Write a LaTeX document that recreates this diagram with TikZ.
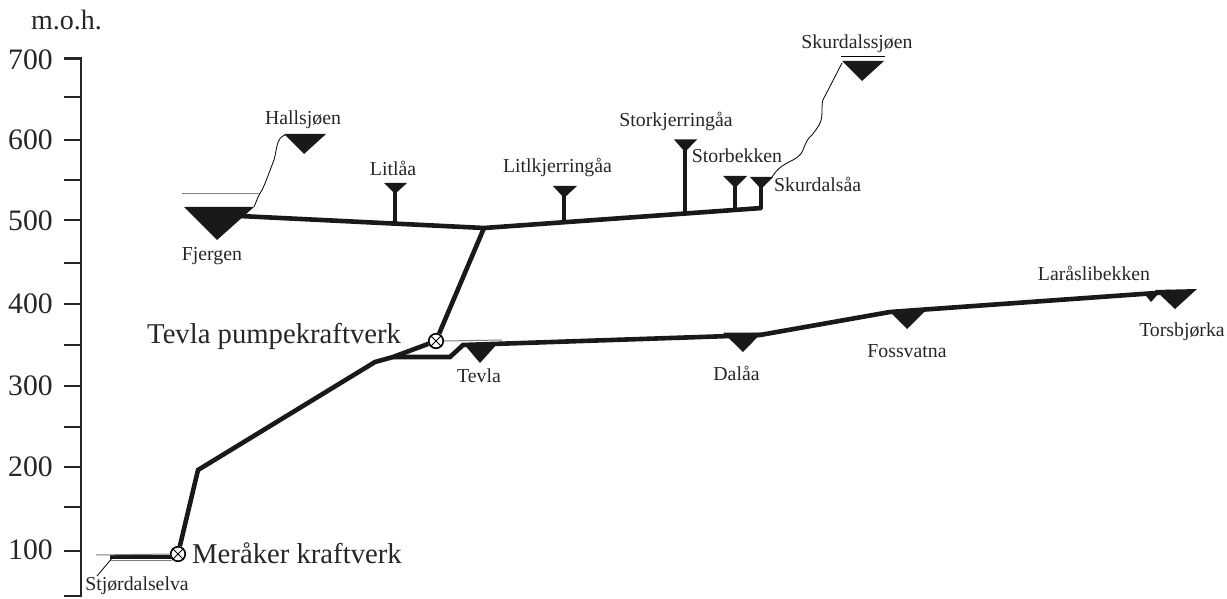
\documentclass[tikz,border=0pt]{standalone}
\usepackage{fontspec}
\setmainfont{Liberation Serif}
\tikzset{
 pipe/.style={line width=4.6pt,line join=miter,color=black!90},
 branch/.style={line width=4pt,color=black!90},
 axisline/.style={line width=2.4pt,color=black!85},
 waterline/.style={line width=1pt,color=black!50},
 thinline/.style={line width=0.8pt,color=black},
 res/.style={fill=black!90,draw=none},
 plant/.style={circle,draw=black,line width=1.6pt,fill=white,minimum size=14.5pt,inner sep=0pt},
 big/.style={font=\fontsize{29.7}{30}\selectfont,text=black!85,inner sep=0pt},
 med/.style={font=\fontsize{28.7}{29}\selectfont,text=black!85,inner sep=0pt},
 small/.style={font=\fontsize{19.8}{20}\selectfont,text=black!85,inner sep=0pt},
 unit/.style={font=\fontsize{28}{28}\selectfont,text=black!85,inner sep=0pt},
}
\begin{document}
\begin{tikzpicture}[x=1pt,y=-1pt]
\useasboundingbox (0,0) rectangle (1227,599);
% axis
\coordinate (axt) at (81,58.5); \coordinate (axb) at (81,596);
\draw[axisline] (64,58.5) -- (axt) -- (axb) -- (64,596);
\foreach \y in {97,140,180,220,263,304,345,386,427,467,507,551}
  \draw[axisline] (64,\y) -- (81,\y);
\foreach \y/\t in {60/700,140/600,221/500,304/400,386/300,467/200,550/100}
  \node[big,anchor=east] at (53,\y) {\t};
\node[unit,anchor=west] (moh) at (31,20) {m.o.h.};

% junctions
\coordinate (jF) at (240,216); \coordinate (jU) at (484,228); \coordinate (jS) at (762,208);
\coordinate (jL) at (393,357); \coordinate (jK) at (375,362); \coordinate (j200) at (198,470);
\coordinate (jT) at (450,357); \coordinate (jT2) at (463,345);
\coordinate (jD) at (760,335); \coordinate (jO) at (890,312); \coordinate (jE) at (1170,292);
\coordinate (jSt) at (110,557); \coordinate (jM) at (172,557);
\node[plant] (meraker) at (178,554) {};
\node[plant] (tevlaP) at (436,341) {};

% pipes
\draw[pipe] (jSt) -- (jM);
\draw[pipe] (meraker) -- (j200) -- (jK) -- (jL) -- (tevlaP);
\draw[pipe] (tevlaP) -- (jU);
\draw[pipe] (jF) -- (jU) -- (jS);
\draw[pipe] (jL) -- (jT) -- (jT2) -- (jD) -- (jO) -- (jE);

% branches
\coordinate (bL) at (395,224); \coordinate (tL) at (395,190);
\coordinate (bK) at (564,222); \coordinate (tK) at (564,195);
\coordinate (bS) at (685,213); \coordinate (tS) at (685,148);
\coordinate (bB) at (735,210); \coordinate (tB) at (735,184);
\coordinate (bA) at (761,209); \coordinate (tA) at (761,185);
\draw[branch] (tL) -- (bL);
\draw[branch] (tK) -- (bK);
\draw[branch] (tS) -- (bS);
\draw[branch] (tB) -- (bB);
\draw[branch] (tA) -- (bA);

% reservoirs
\fill[res] (184,207) -- (254,207) -- (217,240) -- cycle;
\fill[res] (284,134) -- (326,134) -- (304,154) -- cycle;
\fill[res] (384,183) -- (407,183) -- (395,194) -- cycle;
\fill[res] (553,186) -- (577,186) -- (564,198) -- cycle;
\fill[res] (674,139.5) -- (697,139.5) -- (685,152) -- cycle;
\fill[res] (723,176) -- (747,176) -- (735,188) -- cycle;
\fill[res] (750,177) -- (773,177) -- (761,189) -- cycle;
\fill[res] (842,61) -- (884,61) -- (862,81) -- cycle;
\fill[res] (463,343) -- (498,343) -- (480,363) -- cycle;
\fill[res] (723,332.5) -- (762,332.5) -- (743,352) -- cycle;
\fill[res] (888,310) -- (926,310) -- (907,329) -- cycle;
\fill[res] (1143,292) -- (1160,292) -- (1151,302) -- cycle;
\fill[res] (1155,290) -- (1197,289) -- (1175,309) -- cycle;

% water levels
\draw[waterline] (182,194) -- (259,194);
\draw[waterline] (tevlaP.east) -- (502,340);
\draw[waterline] (96,555) -- (meraker.west);
\draw[waterline] (111,560.5) -- (172,560.5);
\draw[thinline] (841,56) -- (885,56);

% streams
\draw[thinline] (254,207) .. controls (257,200) and (258,196) .. (262,190)
  .. controls (266,182) and (270,170) .. (274,160)
  .. controls (277,150) and (276,138) .. (285,135);
\draw[thinline] (772,177) .. controls (778,168) and (782,166) .. (787,163)
  .. controls (795,159) and (800,157) .. (803,150)
  .. controls (806,142) and (808,138) .. (812,135)
  .. controls (817,128) and (822,124) .. (822,112)
  .. controls (822,104) and (822,100) .. (825,96) -- (842,63);
\draw[thinline] (97,576) -- (113,557);

% labels
\node[small] (l1) at (303,120) {Hallsjøen};
\node[small] (l2) at (393,168) {Litlåa};
\node[small] (l3) at (557.5,167) {Litlkjerringåa};
\node[small] (l4) at (676,121) {Storkjerringåa};
\node[small] (l5) at (737,156) {Storbekken};
\node[small,anchor=west] (l6) at (774,184) {Skurdalsåa};
\node[small] (l7) at (857,44) {Skurdalssjøen};
\node[small] (l8) at (212,256) {Fjergen};
\node[small] (l9) at (479,376) {Tevla};
\node[small] (l10) at (736.5,373) {Dalåa};
\node[small] (l11) at (907,351) {Fossvatna};
\node[small] (l12) at (1094,273) {Laråslibekken};
\node[small] (l13) at (1182,332) {Torsbjørka};
\node[small] (l14) at (137,586) {Stjørdalselva};
\node[med,anchor=west] (n1) at (147,336) {Tevla pumpekraftverk};
\node[med,anchor=west] (n2) at (192,553) {Meråker kraftverk};

% crosses
\draw[line width=1pt] (tevlaP.north west) -- (tevlaP.south east) (tevlaP.north east) -- (tevlaP.south west);
\draw[line width=1pt] (meraker.north west) -- (meraker.south east) (meraker.north east) -- (meraker.south west);
\end{tikzpicture}
\end{document}
